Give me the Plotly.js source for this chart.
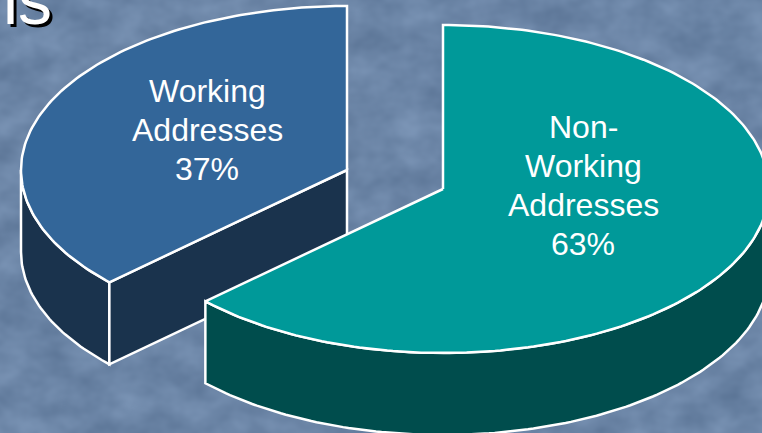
<!DOCTYPE html>
<html>
<head>
<meta charset="utf-8">
<script src="https://cdn.plot.ly/plotly-3.0.1.min.js"></script>
<style>
  html, body { margin: 0; padding: 0; width: 762px; height: 433px; overflow: hidden; background: #6a84a6; }
  #backdrop { position: absolute; left: 0; top: 0; }
  #chart { position: absolute; left: 0; top: 0; width: 762px; height: 433px; }
</style>
</head>
<body>
<svg id="backdrop" width="762" height="433">
  <filter id="mottle" x="0" y="0" width="100%" height="100%" color-interpolation-filters="sRGB">
    <feTurbulence type="fractalNoise" baseFrequency="0.028 0.036" numOctaves="3" seed="11"/>
    <feColorMatrix type="matrix" values="0.15 0 0 0 0.345  0.15 0 0 0 0.445  0.15 0 0 0 0.575  0 0 0 0 1"/>
  </filter>
  <rect width="762" height="433" filter="url(#mottle)"/>
</svg>
<div id="chart"></div>
<script>
// Survey outcome shares
const categories = ["Working Addresses", "Non-Working Addresses"];
const shares = [37, 63];
const labelLines = [["Working", "Addresses", "37%"], ["Non-", "Working", "Addresses", "63%"]];
const headingFragment = "is";

// Tilted-pie projection, in page-sized axis units
const radiusX = 326, radiusY = 164, depth = 82;
const apexWorking = [347, 170], apexNonWorking = [443, 189];
const labelCentres = [[207, 91], [583, 127]];
const lineStep = 39;

const topBlue = "#336699", sideBlue = "#1a334d";
const topTeal = "#009999", sideTeal = "#004d4d";
const edge = { color: "#ffffff", width: 2.5 };

// Point on a slice rim, angle measured clockwise from twelve o'clock
function rim(apex, deg, drop) {
  const t = deg * Math.PI / 180;
  return [apex[0] + radiusX * Math.sin(t), apex[1] - radiusY * Math.cos(t) + (drop || 0)];
}
function arc(apex, from, to, drop) {
  const pts = [];
  const n = Math.max(2, Math.round(Math.abs(to - from)));
  for (let i = 0; i <= n; i++) pts.push(rim(apex, from + (to - from) * i / n, drop));
  return pts;
}
function shape(pts, fill, name) {
  return {
    type: "scatter", mode: "lines", name: name, hoverinfo: "name",
    x: pts.map(p => p[0]), y: pts.map(p => p[1]),
    fill: "toself", fillcolor: fill, line: edge
  };
}

const split = shares[1] / (shares[0] + shares[1]) * 360;

// Working slice: top face spans the split angle to full circle
const workingTop = [apexWorking].concat(arc(apexWorking, split, 360), [apexWorking]);
const workingWall = arc(apexWorking, split, 270).concat(arc(apexWorking, 270, split, depth));
workingWall.push(workingWall[0]);
const pointW = rim(apexWorking, split);
const workingCut = [pointW, apexWorking, [apexWorking[0], apexWorking[1] + depth],
                    [pointW[0], pointW[1] + depth], pointW];

// Non-working slice: top face spans twelve o'clock to the split angle
const outerWall = arc(apexNonWorking, 90, split).concat(arc(apexNonWorking, split, 90, depth));
outerWall.push(outerWall[0]);
const nonWorkingTop = [apexNonWorking].concat(arc(apexNonWorking, 0, split), [apexNonWorking]);

const traces = [
  shape(workingWall, sideBlue, categories[0]),
  shape(workingCut, sideBlue, categories[0]),
  shape(workingTop, topBlue, categories[0]),
  shape(outerWall, sideTeal, categories[1]),
  shape(nonWorkingTop, topTeal, categories[1])
];

const annotations = [];
labelLines.forEach((lines, i) => {
  lines.forEach((line, j) => {
    annotations.push({
      x: labelCentres[i][0], y: labelCentres[i][1] + j * lineStep,
      xref: "x", yref: "y", text: line, showarrow: false,
      xanchor: "center", yanchor: "middle",
      font: { family: "Liberation Sans, Arial, sans-serif", size: 32, color: "#ffffff" }
    });
  });
});
// Heading running off the top of the slide, with a hard drop shadow
annotations.push({
  x: 1, y: 40, xref: "x", yref: "y", text: headingFragment, showarrow: false,
  xanchor: "left", yanchor: "bottom", align: "left",
  font: { family: "Liberation Sans, Arial, sans-serif", size: 68, color: "#ffffff",
          shadow: "3px 3px 0 #000000" }
});

const hidden = { visible: false, fixedrange: true };
Plotly.newPlot("chart", traces, {
  width: 762, height: 433,
  margin: { l: 0, r: 0, t: 0, b: 0 },
  paper_bgcolor: "rgba(0,0,0,0)", plot_bgcolor: "rgba(0,0,0,0)",
  showlegend: false,
  xaxis: Object.assign({ range: [0, 762] }, hidden),
  yaxis: Object.assign({ range: [433, 0] }, hidden),
  annotations: annotations
}, { displayModeBar: false, staticPlot: true });
</script>
</body>
</html>
